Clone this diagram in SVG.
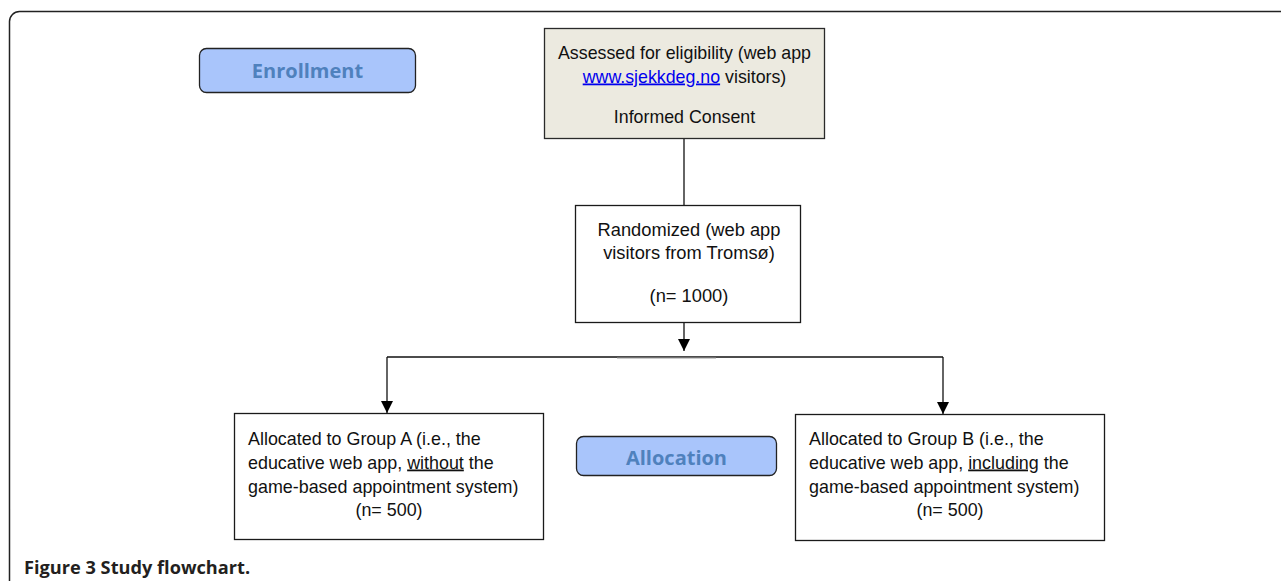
<svg xmlns="http://www.w3.org/2000/svg" width="1281" height="581" viewBox="0 0 1281 581">
<style>
.box{fill:#fff;stroke:#1a1a1a;stroke-width:1.3}
.lbl{fill:#a9c5fb;stroke:#222;stroke-width:1.3}
.ltxt{font-family:"Open Sans","Liberation Sans",sans-serif;font-weight:bold;font-size:20px;fill:#4f81bd;text-anchor:middle}
.t{font-family:"Liberation Sans",Arial,sans-serif;font-size:17.9px;fill:#111}
.e{font-size:17.8px}
.r{font-size:18.3px}
.c{text-anchor:middle}
.ln{stroke:#111;stroke-width:1.3;fill:none}
</style>
<defs>
<marker id="ah" viewBox="0 0 10 10" refX="10" refY="5" markerWidth="12" markerHeight="12" markerUnits="userSpaceOnUse" orient="auto">
<path d="M0,0 L10,5 L0,10 z" fill="#000"/>
</marker>
</defs>
<rect width="1281" height="581" fill="#fff"/>
<rect id="frame" x="9.5" y="11.5" width="1300" height="600" rx="10" fill="none" stroke="#222" stroke-width="1.5"/>
<g id="connectors">
<line class="ln" x1="684" y1="139" x2="684" y2="205"/>
<line class="ln" x1="684" y1="323" x2="684" y2="351" marker-end="url(#ah)"/>
<line class="ln" x1="387" y1="357" x2="943" y2="357"/>
<line x1="617" y1="358" x2="716" y2="358" stroke="#999" stroke-width="1"/>
<line class="ln" x1="387" y1="357" x2="387" y2="413" marker-end="url(#ah)"/>
<line class="ln" x1="943" y1="357" x2="943" y2="414" marker-end="url(#ah)"/>
</g>
<g id="enrollment">
<rect class="lbl" x="199.5" y="48.5" width="216" height="44" rx="7"/>
<text class="ltxt" x="307.5" y="77.5">Enrollment</text>
</g>
<g id="eligibility">
<rect x="544.5" y="28.5" width="280" height="110" fill="#eceae0" stroke="#2a2a2a" stroke-width="1.3"/>
<text class="t e c" x="684.5" y="58.5">Assessed for eligibility (web app</text>
<text class="t e c" x="684.5" y="82.5"><tspan fill="#0000ee" text-decoration="underline">www.sjekkdeg.no</tspan> visitors)</text>
<text class="t e c" x="684.5" y="122.5">Informed Consent</text>
</g>
<g id="randomized">
<rect class="box" x="575.5" y="205.5" width="225" height="117"/>
<text class="t r c" x="689" y="235.5">Randomized (web app</text>
<text class="t r c" x="689" y="258.5">visitors from Tromsø)</text>
<text class="t r c" x="689" y="302">(n= 1000)</text>
</g>
<g id="groupA">
<rect class="box" x="234.5" y="413.5" width="309" height="126"/>
<text class="t" x="248" y="444.5">Allocated to Group A (i.e., the</text>
<text class="t" x="248" y="468.5">educative web app, <tspan text-decoration="underline">without</tspan> the</text>
<text class="t" x="248" y="492.5">game-based appointment system)</text>
<text class="t c" x="389" y="515.5">(n= 500)</text>
</g>
<g id="allocation">
<rect class="lbl" x="576.5" y="436.5" width="200" height="39" rx="7"/>
<text class="ltxt" x="676.5" y="465">Allocation</text>
</g>
<g id="groupB">
<rect class="box" x="795.5" y="414.5" width="309" height="126"/>
<text class="t" x="809" y="444.5">Allocated to Group B (i.e., the</text>
<text class="t" x="809" y="468.5">educative web app, <tspan text-decoration="underline">including</tspan> the</text>
<text class="t" x="809" y="492.5">game-based appointment system)</text>
<text class="t c" x="950" y="515.5">(n= 500)</text>
</g>
<text x="24" y="574" font-family="Open Sans,Liberation Sans,sans-serif" font-weight="bold" font-size="18.2" fill="#231f20">Figure 3 Study flowchart.</text>
</svg>
